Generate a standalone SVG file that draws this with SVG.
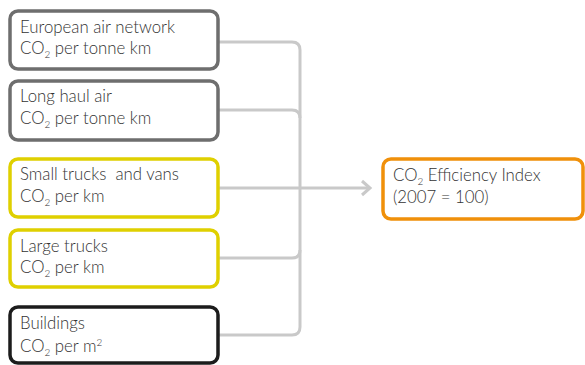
<svg xmlns="http://www.w3.org/2000/svg" width="585" height="365" viewBox="0 0 585 365">
<style>
.box{fill:#fff;stroke-width:3.5}
.gray{stroke:#6e6e6e}
.yel{stroke:#dfd000}
.blk{stroke:#1c1c1c}
.org{stroke:#f0900a}
text{font-family:"Lato","Liberation Sans",sans-serif;font-weight:300;font-size:16.8px;fill:#333}
.sub{font-size:10px}
.con{fill:none;stroke:#c9c9c9;stroke-width:3}
</style>
<g id="connectors">
<path class="con" d="M218,42 H292 Q300,42 300,50 V327 Q300,335 292,335 H218"/>
<path class="con" d="M218,110 H292 Q300,110 300,118"/>
<path class="con" d="M218,258 H292 Q300,258 300,250"/>
<path class="con" d="M218,188 H368"/>
<path d="M362,181 L370,188 L362,195" fill="none" stroke="#c9c9c9" stroke-width="3"/>
</g>
<g id="n1">
<rect class="box gray" x="10" y="11" width="208" height="58" rx="8"/>
<text x="20" y="33">European air network</text>
<text x="20" y="54">CO<tspan class="sub" dy="4">2</tspan><tspan dy="-4"> per tonne km</tspan></text>
</g>
<g id="n2">
<rect class="box gray" x="10" y="81" width="208" height="59" rx="8"/>
<text x="20" y="102">Long haul air</text>
<text x="20" y="124">CO<tspan class="sub" dy="4">2</tspan><tspan dy="-4"> per tonne km</tspan></text>
</g>
<g id="n3">
<rect class="box yel" x="10" y="159" width="208" height="58" rx="8"/>
<text x="20" y="180" xml:space="preserve">Small trucks  and vans</text>
<text x="20" y="202">CO<tspan class="sub" dy="4">2</tspan><tspan dy="-4"> per km</tspan></text>
</g>
<g id="n4">
<rect class="box yel" x="10" y="230" width="208" height="57" rx="8"/>
<text x="20" y="252">Large trucks</text>
<text x="20" y="273">CO<tspan class="sub" dy="4">2</tspan><tspan dy="-4"> per km</tspan></text>
</g>
<g id="n5">
<rect class="box blk" x="10" y="307" width="208" height="56" rx="8"/>
<text x="20" y="329">Buildings</text>
<text x="20" y="352">CO<tspan class="sub" dy="4">2</tspan><tspan dy="-4"> per m</tspan><tspan class="sub" dy="-6">2</tspan></text>
</g>
<g id="target">
<rect class="box org" x="383" y="159" width="200" height="60" rx="8"/>
<text x="393" y="181">CO<tspan class="sub" dy="4">2</tspan><tspan dy="-4"> Efficiency Index</tspan></text>
<text x="393" y="203">(2007 = 100)</text>
</g>
</svg>
